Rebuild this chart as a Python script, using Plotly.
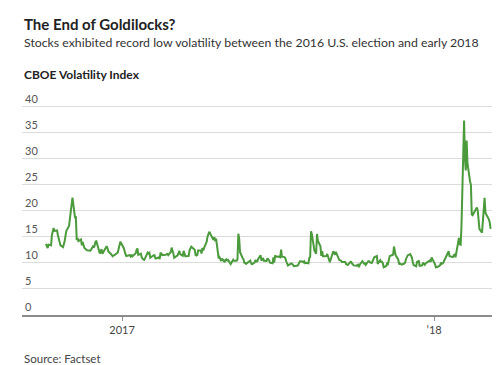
import plotly.graph_objects as go

dates = [
 "2016-10-04","2016-10-05","2016-10-06","2016-10-07","2016-10-10","2016-10-11","2016-10-12","2016-10-13","2016-10-14",
 "2016-10-17","2016-10-18","2016-10-19","2016-10-20","2016-10-21","2016-10-24","2016-10-25","2016-10-26","2016-10-27","2016-10-28",
 "2016-10-31","2016-11-01","2016-11-02","2016-11-03","2016-11-04","2016-11-07","2016-11-08","2016-11-09","2016-11-10","2016-11-11",
 "2016-11-14","2016-11-15","2016-11-16","2016-11-17","2016-11-18","2016-11-21","2016-11-22","2016-11-23","2016-11-25",
 "2016-11-28","2016-11-29","2016-11-30","2016-12-01","2016-12-02","2016-12-05","2016-12-06","2016-12-07","2016-12-08","2016-12-09",
 "2016-12-12","2016-12-13","2016-12-14","2016-12-15","2016-12-16","2016-12-19","2016-12-20","2016-12-21","2016-12-22","2016-12-23",
 "2016-12-27","2016-12-28","2016-12-29","2016-12-30",
 "2017-01-03","2017-01-04","2017-01-05","2017-01-06","2017-01-09","2017-01-10","2017-01-11","2017-01-12","2017-01-13",
 "2017-01-17","2017-01-18","2017-01-19","2017-01-20","2017-01-23","2017-01-24","2017-01-25","2017-01-26","2017-01-27",
 "2017-01-30","2017-01-31","2017-02-01","2017-02-02","2017-02-03","2017-02-06","2017-02-07","2017-02-08","2017-02-09","2017-02-10",
 "2017-02-13","2017-02-14","2017-02-15","2017-02-16","2017-02-17","2017-02-21","2017-02-22","2017-02-23","2017-02-24",
 "2017-02-27","2017-02-28","2017-03-01","2017-03-02","2017-03-03","2017-03-06","2017-03-07","2017-03-08","2017-03-09","2017-03-10",
 "2017-03-13","2017-03-14","2017-03-15","2017-03-16","2017-03-17","2017-03-20","2017-03-21","2017-03-22","2017-03-23","2017-03-24",
 "2017-03-27","2017-03-28","2017-03-29","2017-03-30","2017-03-31","2017-04-03","2017-04-04","2017-04-05","2017-04-06","2017-04-07",
 "2017-04-10","2017-04-11","2017-04-12","2017-04-13","2017-04-17","2017-04-18","2017-04-19","2017-04-20","2017-04-21",
 "2017-04-24","2017-04-25","2017-04-26","2017-04-27","2017-04-28","2017-05-01","2017-05-02","2017-05-03","2017-05-04","2017-05-05",
 "2017-05-08","2017-05-09","2017-05-10","2017-05-11","2017-05-12","2017-05-15","2017-05-16","2017-05-17","2017-05-18","2017-05-19",
 "2017-05-22","2017-05-23","2017-05-24","2017-05-25","2017-05-26","2017-05-30","2017-05-31","2017-06-01","2017-06-02",
 "2017-06-05","2017-06-06","2017-06-07","2017-06-08","2017-06-09","2017-06-12","2017-06-13","2017-06-14","2017-06-15","2017-06-16",
 "2017-06-19","2017-06-20","2017-06-21","2017-06-22","2017-06-23","2017-06-26","2017-06-27","2017-06-28","2017-06-29","2017-06-30",
 "2017-07-03","2017-07-05","2017-07-06","2017-07-07","2017-07-10","2017-07-11","2017-07-12","2017-07-13","2017-07-14",
 "2017-07-17","2017-07-18","2017-07-19","2017-07-20","2017-07-21","2017-07-24","2017-07-25","2017-07-26","2017-07-27","2017-07-28",
 "2017-07-31","2017-08-01","2017-08-02","2017-08-03","2017-08-04","2017-08-07","2017-08-08","2017-08-09","2017-08-10","2017-08-11",
 "2017-08-14","2017-08-15","2017-08-16","2017-08-17","2017-08-18","2017-08-21","2017-08-22","2017-08-23","2017-08-24","2017-08-25",
 "2017-08-28","2017-08-29","2017-08-30","2017-08-31","2017-09-01","2017-09-05","2017-09-06","2017-09-07","2017-09-08",
 "2017-09-11","2017-09-12","2017-09-13","2017-09-14","2017-09-15","2017-09-18","2017-09-19","2017-09-20","2017-09-21","2017-09-22",
 "2017-09-25","2017-09-26","2017-09-27","2017-09-28","2017-09-29","2017-10-02","2017-10-03","2017-10-04","2017-10-05","2017-10-06",
 "2017-10-09","2017-10-10","2017-10-11","2017-10-12","2017-10-13","2017-10-16","2017-10-17","2017-10-18","2017-10-19","2017-10-20",
 "2017-10-23","2017-10-24","2017-10-25","2017-10-26","2017-10-27","2017-10-30","2017-10-31","2017-11-01","2017-11-02","2017-11-03",
 "2017-11-06","2017-11-07","2017-11-08","2017-11-09","2017-11-10","2017-11-13","2017-11-14","2017-11-15","2017-11-16","2017-11-17",
 "2017-11-20","2017-11-21","2017-11-22","2017-11-24","2017-11-27","2017-11-28","2017-11-29","2017-11-30","2017-12-01",
 "2017-12-04","2017-12-05","2017-12-06","2017-12-07","2017-12-08","2017-12-11","2017-12-12","2017-12-13","2017-12-14","2017-12-15",
 "2017-12-18","2017-12-19","2017-12-20","2017-12-21","2017-12-22","2017-12-26","2017-12-27","2017-12-28","2017-12-29",
 "2018-01-02","2018-01-03","2018-01-04","2018-01-05","2018-01-08","2018-01-09","2018-01-10","2018-01-11","2018-01-12",
 "2018-01-16","2018-01-17","2018-01-18","2018-01-19","2018-01-22","2018-01-23","2018-01-24","2018-01-25","2018-01-26",
 "2018-01-29","2018-01-30","2018-01-31","2018-02-01","2018-02-02","2018-02-05","2018-02-06","2018-02-07","2018-02-08","2018-02-09",
 "2018-02-12","2018-02-13","2018-02-14","2018-02-15","2018-02-16","2018-02-20","2018-02-21","2018-02-22","2018-02-23",
 "2018-02-26","2018-02-27","2018-02-28","2018-03-01","2018-03-02","2018-03-05","2018-03-06","2018-03-07","2018-03-08",
]

vix = [
 13.63,12.99,12.84,13.48,13.38,15.36,15.91,16.69,16.12,
 16.21,15.28,14.41,13.75,13.34,13.02,13.46,14.24,15.36,16.19,
 17.06,18.56,19.32,22.08,22.51,18.71,18.74,14.38,14.74,14.17,
 14.48,13.37,14.00,13.35,12.85,12.42,12.41,12.43,12.34,
 13.15,12.90,13.33,14.07,14.12,12.14,11.79,12.22,12.64,11.75,
 12.64,12.72,13.19,12.79,12.20,11.71,11.45,11.27,11.43,11.44,
 11.99,12.95,13.37,14.04,
 12.85,11.85,11.67,11.32,11.56,11.49,11.26,11.54,11.23,
 11.87,12.48,12.78,11.54,11.77,11.07,10.81,10.63,10.58,
 11.88,11.99,11.81,11.93,10.97,11.37,11.45,11.45,10.88,10.85,
 11.07,10.74,11.97,11.76,11.49,11.57,11.74,11.71,11.47,
 12.09,12.92,12.54,11.81,10.96,11.24,11.45,11.86,12.30,11.66,
 11.35,12.30,11.63,11.28,11.28,11.34,12.47,12.81,13.12,12.96,
 12.50,11.53,11.42,11.54,12.37,12.38,11.79,12.89,12.39,12.87,
 14.05,15.07,15.77,15.96,14.66,14.42,14.93,14.15,14.63,
 10.84,11.07,10.76,10.36,10.82,10.11,10.59,10.68,10.46,10.57,
 9.77,10.11,10.21,10.60,10.40,10.42,10.65,15.59,14.66,12.04,
 10.93,10.72,10.02,9.99,9.81,10.38,10.41,9.89,9.75,
 10.07,10.45,10.39,10.16,10.70,11.46,10.42,10.64,10.90,10.38,
 10.37,10.86,10.75,10.48,10.02,9.90,11.06,10.03,11.44,11.18,
 11.22,11.07,12.54,11.19,11.11,10.89,10.30,9.90,9.51,
 9.82,9.89,9.79,9.58,9.36,9.43,9.43,9.60,10.11,10.29,
 10.26,10.09,10.28,9.95,10.03,9.93,10.96,11.11,16.04,15.51,
 12.33,12.04,11.74,15.55,14.26,13.19,11.35,12.25,11.28,11.28,
 11.32,11.70,11.22,10.59,10.13,12.23,11.63,11.55,12.12,
 10.73,10.58,10.50,10.44,10.17,10.15,10.18,9.78,9.67,9.59,
 10.21,10.17,9.87,9.55,9.51,9.45,9.51,9.63,9.19,9.65,
 10.33,10.08,9.85,9.91,9.61,10.31,10.31,10.07,10.05,9.97,
 11.07,11.16,11.23,11.30,9.80,10.50,10.18,10.20,9.93,9.14,
 9.40,9.89,9.78,10.50,11.29,11.50,11.59,13.13,11.76,11.43,
 10.65,9.73,9.88,9.67,9.87,10.03,10.70,11.28,11.43,
 11.68,11.33,11.02,10.16,9.58,9.34,10.18,10.18,10.49,9.42,
 9.53,10.03,9.72,9.62,9.90,10.25,10.47,10.18,11.04,
 9.77,9.15,9.22,9.22,9.52,10.08,9.82,9.88,10.16,
 11.66,11.91,12.22,11.27,11.03,11.10,11.47,11.58,11.08,
 13.84,14.79,13.54,13.47,17.31,37.32,29.98,27.73,33.46,29.06,
 25.61,24.97,19.26,19.13,19.46,20.60,20.02,18.72,16.49,
 15.80,18.59,19.85,22.47,19.59,18.73,18.36,17.76,16.54,
]

y_ticks = [0, 5, 10, 15, 20, 25, 30, 35, 40]
x_tickvals = ["2017-01-01", "2018-01-01"]
x_ticktext = ["2017", "\u201918"]

W, H = 500, 365
ML, MR, MT, MB = 14, 14, 88, 58.3
Y_TOP = 42
FONT = "Lato"

def px(xp):
    return (xp - ML) / (W - ML - MR)

def py(yp):
    return (H - MB - yp) / (H - MT - MB)

fig = go.Figure()
fig.add_trace(go.Scatter(
    x=dates, y=vix, mode="lines",
    line=dict(color="#4b9a3c", width=2),
    hoverinfo="skip",
))

fig.update_layout(
    width=W, height=H,
    margin=dict(l=ML, r=MR, t=MT, b=MB, autoexpand=False),
    paper_bgcolor="white", plot_bgcolor="white",
    showlegend=False,
    font=dict(family=FONT, color="#333"),
    xaxis=dict(
        type="date",
        range=["2016-09-06", "2018-03-12"],
        autorange=False,
        tickvals=x_tickvals, ticktext=x_ticktext,
        showgrid=False,
        showline=True, linecolor="#8c8c8c", linewidth=1.5,
        ticks="outside", ticklen=4, tickcolor="#8c8c8c", tickwidth=1,
        tickfont=dict(size=11, color="#444", family=FONT),
        zeroline=False,
    ),
    yaxis=dict(
        range=[0, Y_TOP],
        autorange=False,
        tickvals=y_ticks,
        ticklabelposition="inside top",
        ticklabeloverflow="allow",
        showgrid=True, gridcolor="#dcdcdc", gridwidth=1,
        showline=False, zeroline=False, ticks="",
        tickfont=dict(size=11, color="#555", family=FONT),
    ),
)

anns = [
    dict(text="<b>The End of Goldilocks?</b>", x=px(14), y=py(16), size=15, color="#222"),
    dict(text="Stocks exhibited record low volatility between the 2016 U.S. election and early 2018", x=px(14), y=py(35), size=12.3, color="#333"),
    dict(text="<b>CBOE Volatility Index</b>", x=px(14), y=py(67), size=12, color="#222"),
    dict(text="Source: Factset", x=px(14), y=py(350), size=11.5, color="#444"),
]
for a in anns:
    fig.add_annotation(
        text=a["text"], x=a["x"], y=a["y"], xref="paper", yref="paper",
        xanchor="left", yanchor="middle", showarrow=False,
        font=dict(size=a["size"], color=a["color"], family=FONT),
    )

fig.write_html("out.html")
